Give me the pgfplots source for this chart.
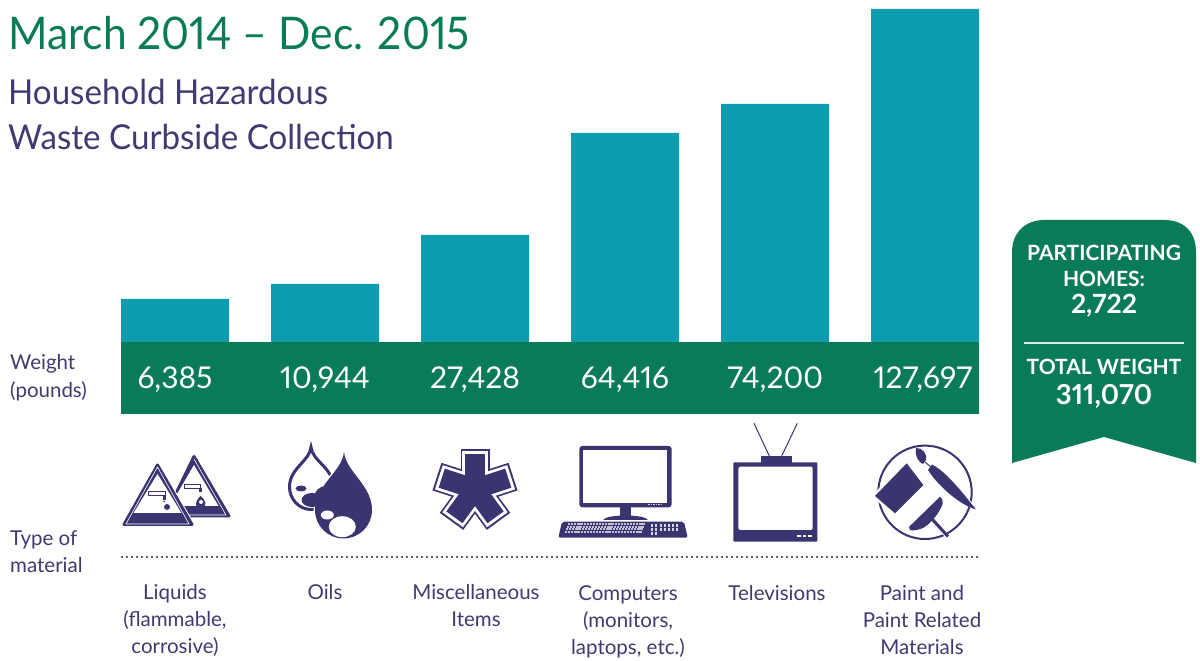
\documentclass[border=0pt]{standalone}
\usepackage{pgfplots}
\pgfplotsset{compat=1.18}
\usepackage{pgfplotstable}
\usepackage{fontspec}
\setmainfont{Lato}[Numbers=Proportional]
\newfontfamily\titlefont{Lato}[Numbers=Proportional,FakeStretch=0.945]
\newfontfamily\subtitlefont{Lato}[Numbers=Proportional,FakeStretch=0.965]
\definecolor{bargreen}{HTML}{097B58}
\definecolor{barteal}{HTML}{0D9BAE}
\definecolor{navy}{HTML}{3A3470}
\definecolor{lab}{HTML}{3F3B70}
% drawn bar heights (px above the green band), as in the picture (bars are not to scale with the printed weights)
\pgfplotstableread{
x height
175 43
325 58
475 107
625 209
775 238
925 333
}\bars
\begin{document}
\begin{tikzpicture}[x=1pt,y=1pt]
\path[use as bounding box,fill=white] (0,0) rectangle (1200,661);
\begin{axis}[at={(0,0)},anchor=south west,width=1200pt,height=661pt,scale only axis,
  xmin=0,xmax=1200,ymin=-319,ymax=342,hide axis,clip=false]
\addplot[ybar,bar width=108pt,bar shift=0pt,fill=barteal,draw=none] table[x=x,y=height]{\bars};
\end{axis}
\begin{scope}[shift={(0,661)},x=1pt,y=-1pt]
% band
\fill[bargreen] (121,342) rectangle (979,414);
% titles
\node[anchor=base west,inner sep=0,text=bargreen,font=\fontsize{45}{45}\selectfont\titlefont] at (8,50) {March 2014 – Dec. 2015};
\node[anchor=base west,inner sep=0,text=lab,font=\fontsize{34.3}{34.3}\selectfont\subtitlefont] at (8,105) {Household Hazardous};
\node[anchor=base west,inner sep=0,text=lab,font=\fontsize{34.3}{34.3}\selectfont\subtitlefont] at (8,150) {Waste Curbside Collection};
% values
\foreach \x/\v in {175/{6,385},325/{10,944},475/{27,428},625/{64,416},775/{74,200},923/{127,697}}
  \node[anchor=base,inner sep=0,text=white,font=\fontsize{30}{30}\selectfont] at (\x,389) {\v};
% side labels
\foreach \y/\t in {370/Weight,398/(pounds),546/Type of,573/material}
  \node[anchor=base west,inner sep=0,text=lab,font=\fontsize{20.5}{20.5}\selectfont] at (10,\y) {\t};
% categories
\foreach \x/\y/\t in {175/600/Liquids,175/627/{(flammable,},175/654/corrosive),
  325/600/Oils,476/600/Miscellaneous,476/627/Items,
  628/601/Computers,628/628/{(monitors,},628/655/{laptops, etc.)},
  777/601/Televisions,922/601/Paint and,922/628/Paint Related,922/655/Materials}
  \node[anchor=base,inner sep=0,text=lab,font=\fontsize{20.5}{20.5}\selectfont] at (\x,\y) {\t};
% dotted rule
\draw[navy!80,line width=1.6pt,dash pattern=on 1.6pt off 3.4pt] (121,557) -- (979,557);
% ribbon
\fill[bargreen] (1012,463) -- (1012,252) .. controls (1012,232) and (1026,220) .. (1044,220) -- (1164,220)
  .. controls (1184,220) and (1196,232) .. (1196,252) -- (1196,463) -- (1104,437) -- cycle;
\fill[white!85!bargreen] (1024,342.3) rectangle (1184,344.3);
\foreach \y/\s/\t in {261/21/PARTICIPATING,287/21/HOMES:,314/26.5/{2,722},375/21/TOTAL WEIGHT,405/27.5/{311,070}}
  \node[anchor=base,inner sep=0,text=white,font=\fontsize{\s}{\s}\selectfont\bfseries] at (1104,\y) {\t};
% icon: hazard triangles
\begin{scope}[line join=round]
 \draw[navy,fill=navy,line width=3pt] (194,456.5) -- (229,516) -- (165,516) -- cycle;
 \draw[white,line width=.6pt] (194,459) -- (226,515) -- (165,515);
 \fill[white] (194,465) -- (218.5,506) -- (170,506) -- cycle;
 \draw[navy,line width=1pt,fill=white] (184,484.5) rectangle (200,488.5);
 \fill[navy] (199,488) rectangle (202,492);
 \fill[navy] (200.5,496) .. controls (206,501) and (208,505) .. (201,509) .. controls (195,509) and (194,502) .. (200.5,496);
 \fill[white] (201,502) circle (2);
 \draw[white,fill=navy,line width=5pt] (157.5,465) -- (192,524.5) -- (124,524.5) -- cycle;
 \draw[navy,fill=navy,line width=3pt] (157.5,465) -- (192,524.5) -- (124,524.5) -- cycle;
 \draw[white,line width=.6pt] (157.5,467) -- (189,524) -- (126,524) -- cycle;
 \fill[white] (157.5,474) -- (181.5,513) -- (133.5,513) -- cycle;
 \draw[navy,line width=1pt,fill=white] (148,492) rectangle (165,496);
 \fill[navy] (163,495) rectangle (166,500);
 \fill[navy] (164,501.5) circle (.9);
 \fill[navy] (167,507) circle (3);
 \fill[white] (167,513.5) -- (164,510) -- (170,510) -- cycle;
\end{scope}
% icon: drops
\draw[navy,line width=3pt,fill=white] (311,447) .. controls (312,461) and (333.5,468) .. (333.5,487) .. controls (333.5,499) and (323,509.5) .. (311,509.5) .. controls (299,509.5) and (289.5,499) .. (289.5,487) .. controls (289.5,468) and (310,461) .. (311,447) -- cycle;
\fill[navy] (301,488.5) ellipse (5.5 and 3);
\draw[white,line width=3pt] (344,452) .. controls (346,472) and (372,485) .. (372,510) .. controls (372,526) and (359,538.5) .. (343.5,538.5) .. controls (328,538.5) and (315,526) .. (315,510) .. controls (315,485) and (342,472) .. (344,452) -- cycle;
\fill[navy] (312,500) ellipse (10.5 and 7);
\fill[navy] (326,498) circle (12);
\fill[navy] (344,452) .. controls (346,472) and (372,485) .. (372,510) .. controls (372,526) and (359,538.5) .. (343.5,538.5) .. controls (328,538.5) and (315,526) .. (315,510) .. controls (315,485) and (342,472) .. (344,452) -- cycle;
\fill[white] (327.3,515) ellipse (6.5 and 4.5);
\fill[white] (342.3,526.7) ellipse (13.5 and 10.5);
% icon: asterisk
\foreach \a in {-90,-18,54,126,198} \draw[navy,line width=29pt] (475,489) -- +(\a:40);
\foreach \a in {-90,-18,54,126,198} \draw[white,line width=25.5pt] (475,489) -- +(\a:38);
\foreach \a in {-90,-18,54,126,198} \draw[navy,line width=20pt] (475,489) -- +(\a:35);
% icon: computer
\fill[navy,rounded corners=3pt] (579.3,446) rectangle (671.7,507.3);
\fill[white] (583.3,450) rectangle (667.3,502.7);
\foreach \x in {648,650.5,653,655.5,658,660.5} \fill[white!75!navy] (\x,503.6) rectangle +(1.5,1.5);
\fill[navy] (620,507) rectangle (630.7,516);
\fill[navy] (603,520) .. controls (606,514) and (645,514) .. (648,520) -- cycle;
\fill[navy,rounded corners=2pt] (562,521.7) -- (684,521.7) -- (687.7,537.7) -- (558.3,537.7) -- cycle;
\foreach \y in {523.5,526,528.5,531} \foreach \n in {0,...,24} \fill[white!70!navy] ({568+\n*3.1-(\y-523.5)*0.4},\y) rectangle +(2.2,1.6);
\foreach \x in {650.5,654.5} \foreach \y in {524,528,532} \fill[white!80!navy] (\x,\y) rectangle +(2.2,2.6);
\foreach \x in {660,664,668,672,676} \foreach \y in {524,528} \fill[white!80!navy] (\x,\y) rectangle +(2.4,3);
% icon: television
\draw[navy,line width=1pt] (769.3,456) -- (754,423.3) (781.7,456) -- (797.3,423.3);
\fill[navy] (760.7,455.7) rectangle (791.7,463);
\fill[navy,rounded corners=1pt] (733.3,462.3) rectangle (817.3,541.7);
\fill[white,rounded corners=1.5pt] (738.3,466.7) rectangle (812.7,530);
\foreach \x in {797,802.5,808} \fill[white] (\x,534.6) rectangle +(3.8,2);
% icon: paint
\draw[navy,line width=2pt] (925,492.3) circle (46.7);
\draw[white,line width=5pt] (906.7,463.3) -- (923.3,485) -- (895,513.3) -- (875,496) -- cycle;
\fill[navy] (906.7,463.3) -- (923.3,485) -- (895,513.3) -- (875,496) -- cycle;
\draw[white,line width=5pt] (916,450) -- (974,508);
\fill[navy] (916,448) .. controls (922,447) and (928,455) .. (926,460) -- (923,464) .. controls (919,463) and (914,455) .. (916,448) -- cycle;
\draw[navy,line width=1pt] (925,462) -- (932,468);
\fill[navy] (932,464.5) .. controls (947,472) and (966,497) .. (976,509.5) .. controls (960,505) and (938,486) .. (928,470) -- cycle;
\draw[white,line width=4pt] (933,521.5) -- (950,539);
\fill[navy] (940,496.7) .. controls (943,499) and (943,503) .. (942.3,505) .. controls (938,515) and (930,524) .. (923,528) .. controls (918,530) and (913,531) .. (910,530) .. controls (908,528) and (909,526) .. (912,524) -- cycle;
\draw[navy,line width=3pt] (932,519) -- (948,536.5);
\end{scope}
\end{tikzpicture}
\end{document}
